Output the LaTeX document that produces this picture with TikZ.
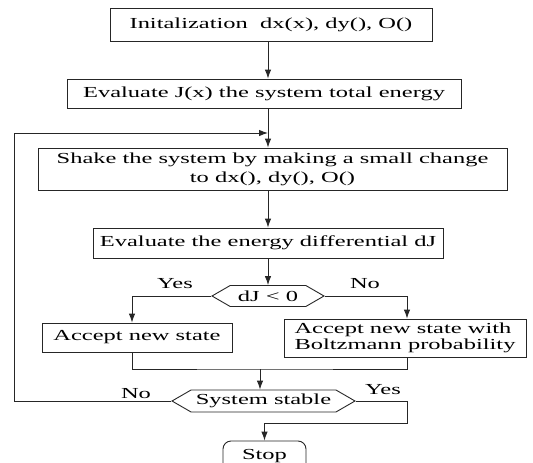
\documentclass[tikz,border=0pt]{standalone}
\usepackage{fontspec}
\setmainfont{Liberation Serif}[FakeStretch=1.6]
\usetikzlibrary{arrows.meta,shapes.symbols}
\tikzset{
  every node/.style={font=\fontsize{15.3}{19}\selectfont},
  box/.style={draw=black!85,line width=0.9pt,rectangle,inner sep=2pt},
  hexa/.style={draw=black!85,line width=0.9pt,signal,signal to=east and west,
    signal pointer angle=60,inner sep=0pt},
  stopbox/.style={draw=black!85,line width=0.9pt,rectangle,rounded corners=8pt},
  arr/.style={-{Latex[length=9pt,width=6.5pt]},draw=black!85,line width=0.9pt},
  wire/.style={draw=black!85,line width=0.9pt},
}
\begin{document}
\begin{tikzpicture}[x=1pt,y=-1pt]
    \useasboundingbox (0,0) rectangle (533,463);
    % main column
    \node[box,minimum width=322,minimum height=33] (init) at (271,24.5) {Initalization~ dx(x), dy(), O()};
    \node[box,minimum width=394,minimum height=29] (evalJ) at (264,93.5) {Evaluate J(x) the system total energy};
    \node[box,minimum width=469,minimum height=42,align=center] (shake) at (272.5,169) {Shake the system by making a small change\\to dx(), dy(), O()};
    \node[box,minimum width=350,minimum height=30] (evaldJ) at (268,243) {Evaluate the energy differential dJ};
    \node[hexa,minimum width=112,minimum height=21] (dJ) at (268,296) {dJ < 0};
    % branches
    \node[box,minimum width=190,minimum height=29] (accept) at (137,337.5) {Accept new state};
    \node[box,minimum width=242,minimum height=38,align=left,font=\fontsize{15.3}{16.5}\selectfont] (boltz) at (405,338) {Accept new state with\\Boltzmann probability};
    \node[hexa,minimum width=183,minimum height=22] (stable) at (263.5,401) {System stable};
    \node[stopbox,minimum width=83,minimum height=30] (stop) at (264.5,456) {Stop};
    % labels
    \node (yesA) at (175,284) {Yes};
    \node (noA) at (365,284) {No};
    \node (noB) at (136,394) {No};
    \node (yesB) at (383,390) {Yes};
    % turning points
    \coordinate (back) at (14,133);
    \coordinate (merge) at (260,369);
    \coordinate (turn) at (407,423);
    % connectors
    \draw[arr] (init.south -| dJ) -- (evalJ.north -| dJ);
    \draw[arr] (evalJ.south -| dJ) -- (shake.north -| dJ);
    \draw[arr] (shake.south -| dJ) -- (evaldJ.north -| dJ);
    \draw[arr] (evaldJ.south -| dJ) -- (dJ.north);
    \draw[arr] (dJ.west) -| ([xshift=-5pt]accept.north);
    \draw[arr] (dJ.east) -| ([xshift=2pt]boltz.north);
    \draw[wire] ([xshift=-5pt]accept.south) |- (merge) -| ([xshift=2pt]boltz.south);
    \draw[arr] (merge) -- (stable.north -| merge);
    \draw[arr] (stable.west) -| (back) -- (back -| dJ);
    \draw[arr] (stable.east) -| (turn) -| (stop.north);
\end{tikzpicture}
\end{document}
